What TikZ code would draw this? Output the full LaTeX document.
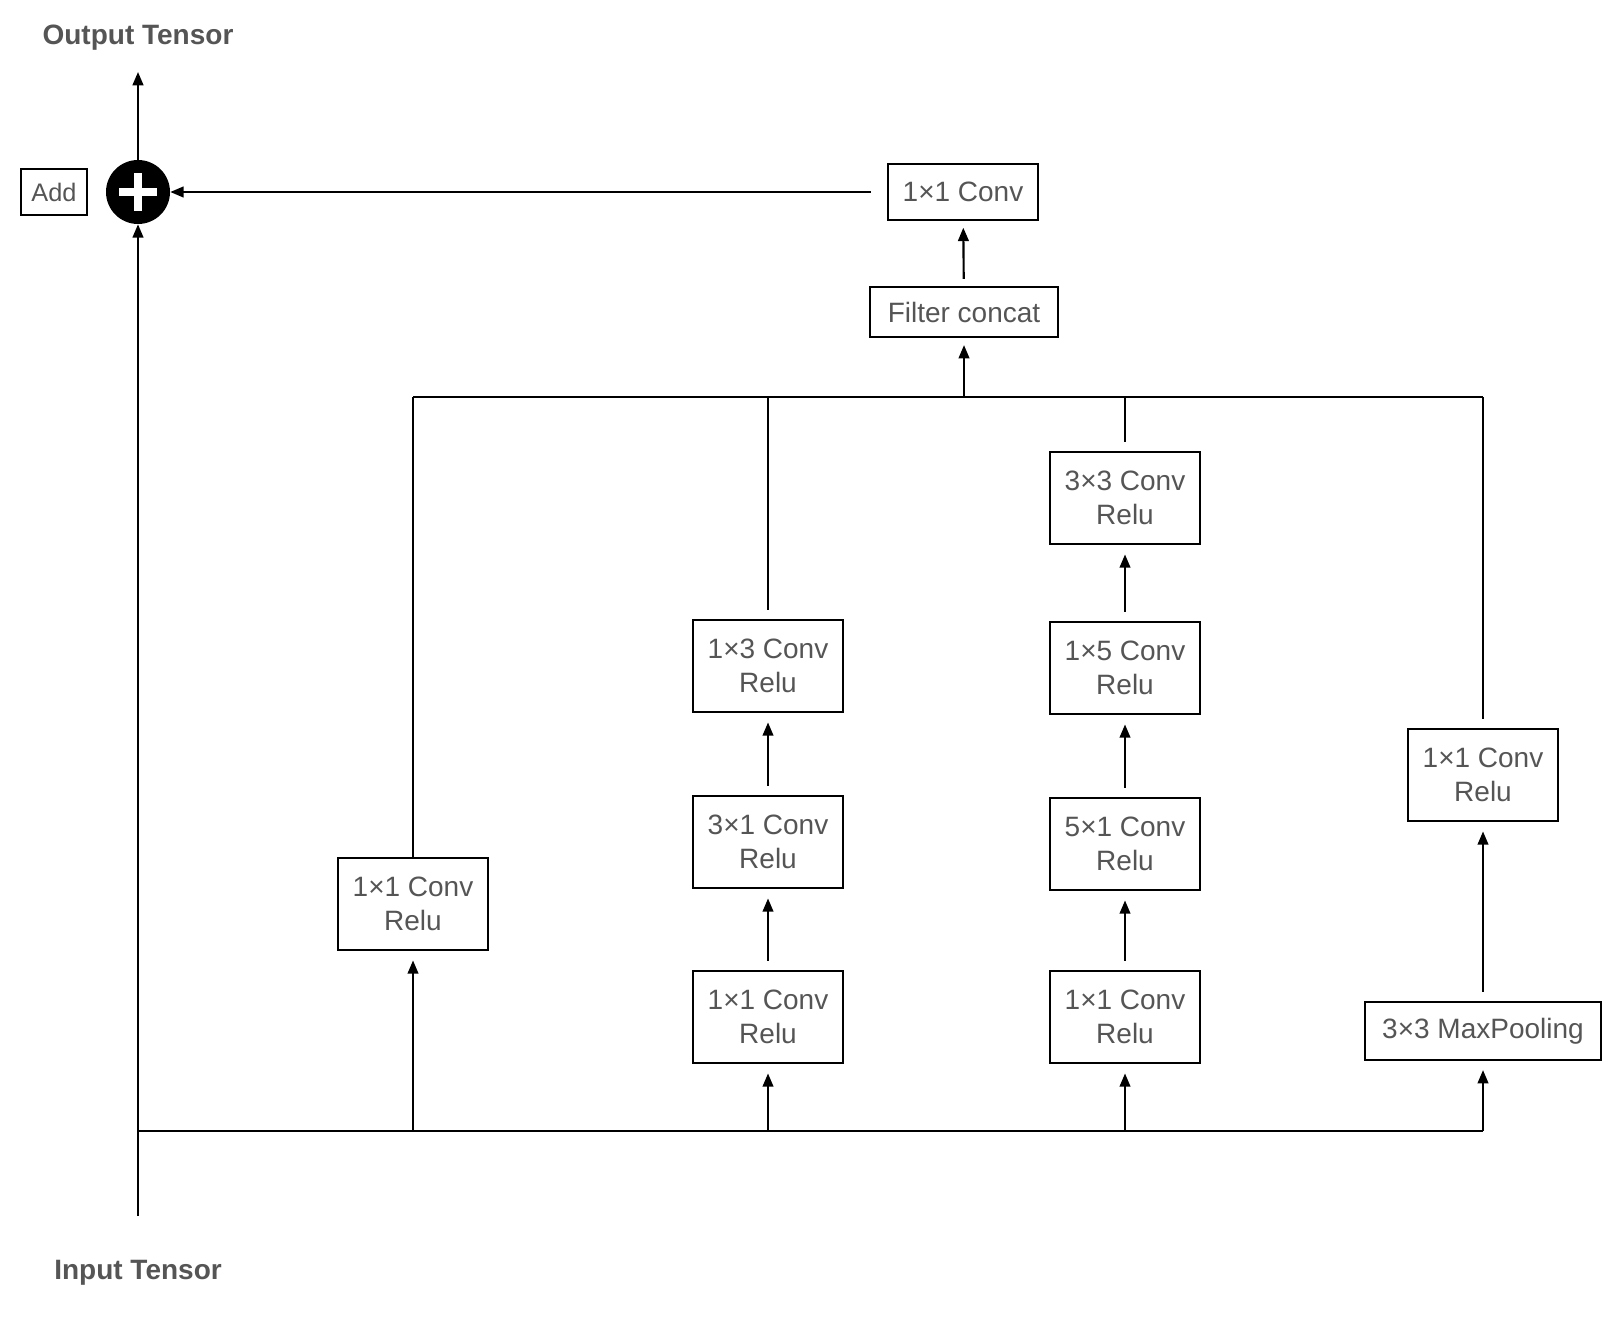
\documentclass[tikz,border=0pt]{standalone}
\usepackage{fontspec}
\setmainfont{Liberation Sans}
\usetikzlibrary{arrows.meta}
\definecolor{txt}{HTML}{555555}
\begin{document}
\begin{tikzpicture}[x=0.75pt,y=-0.75pt,
  box/.style={draw=black,line width=1.6pt,text=txt,font=\fontsize{21}{25}\selectfont,minimum width=112.5pt,minimum height=69pt,inner sep=0pt,align=center},
  ln/.style={line width=1.6pt},
  ar/.style={ln,-{Triangle[length=10pt,width=8pt]}},
  ttl/.style={text=txt,font=\fontsize{21}{25}\selectfont\bfseries}]
\useasboundingbox (0,0) rectangle (1615,1323);
\node[ttl] (out) at (138,38) {Output Tensor};
\node[ttl] (in) at (138,1273) {Input Tensor};
\node[circle,fill=black,minimum size=48pt,inner sep=0pt] (add) at (138,192) {};
\draw[white,line width=6pt] (add.center) ++(-14pt,0) -- ++(28pt,0);
\draw[white,line width=6pt] (add.center) ++(0,-14pt) -- ++(0,28pt);
\node[draw=black,line width=1.6pt,text=txt,font=\fontsize{19}{23}\selectfont,minimum width=49pt,minimum height=35pt,inner sep=0pt] (addl) at (54,192) {Add};
\coordinate (top) at (138,72);
\coordinate (bot) at (138,1216);
\draw[ar] (add.north) -- (top);
\draw[ar] (bot) -- (add.south);
\node[box,minimum height=42pt] (c1) at (963,192) {1×1 Conv};
\node[box,minimum width=141pt,minimum height=38pt] (fc) at (964,312) {Filter concat};
\draw[ar,shorten <=12pt] (c1.west) -- (add.east);
\draw[ar,shorten <=5pt,shorten >=5pt] (fc) -- (c1);
% columns
\node[box] (a1) at (413,904) {1×1 Conv\\Relu};
\node[box] (b1) at (768,1017) {1×1 Conv\\Relu};
\node[box] (b2) at (768,842) {3×1 Conv\\Relu};
\node[box] (b3) at (768,666) {1×3 Conv\\Relu};
\node[box] (d1) at (1125,1017) {1×1 Conv\\Relu};
\node[box] (d2) at (1125,844) {5×1 Conv\\Relu};
\node[box] (d3) at (1125,668) {1×5 Conv\\Relu};
\node[box] (d4) at (1125,498) {3×3 Conv\\Relu};
\node[box,minimum width=177pt,minimum height=43pt] (e1) at (1483,1031) {3×3 MaxPooling};
\node[box] (e2) at (1483,775) {1×1 Conv\\Relu};
\coordinate (ta) at (413,397); \coordinate (tb) at (768,397);
\coordinate (tc) at (964,397); \coordinate (td) at (1125,397);
\coordinate (te) at (1483,397);
\coordinate (ba) at (413,1131); \coordinate (bb) at (768,1131);
\coordinate (bd) at (1125,1131); \coordinate (be) at (1483,1131);
\coordinate (bl) at (138,1131);
\draw[ln] (ta) -- (te);
\draw[ln] (bl) -- (be);
\draw[ar,shorten >=5pt] (tc) -- (fc);
\draw[ln] (a1.north) -- (ta);
\draw[ln,shorten <=7pt] (b3.north) -- (tb);
\draw[ln,shorten <=7pt] (d4.north) -- (td);
\draw[ln,shorten <=7pt] (e2.north) -- (te);
\draw[ar,shorten >=7pt] (ba) -- (a1);
\draw[ar,shorten >=7pt] (bb) -- (b1);
\draw[ar,shorten >=7pt] (bd) -- (d1);
\draw[ar,shorten >=7pt] (be) -- (e1);
\draw[ar,shorten <=7pt,shorten >=7pt] (b1) -- (b2);
\draw[ar,shorten <=7pt,shorten >=7pt] (b2) -- (b3);
\draw[ar,shorten <=7pt,shorten >=7pt] (d1) -- (d2);
\draw[ar,shorten <=7pt,shorten >=7pt] (d2) -- (d3);
\draw[ar,shorten <=7pt,shorten >=7pt] (d3) -- (d4);
\draw[ar,shorten <=7pt,shorten >=7pt] (e1) -- (e2);
\end{tikzpicture}
\end{document}
